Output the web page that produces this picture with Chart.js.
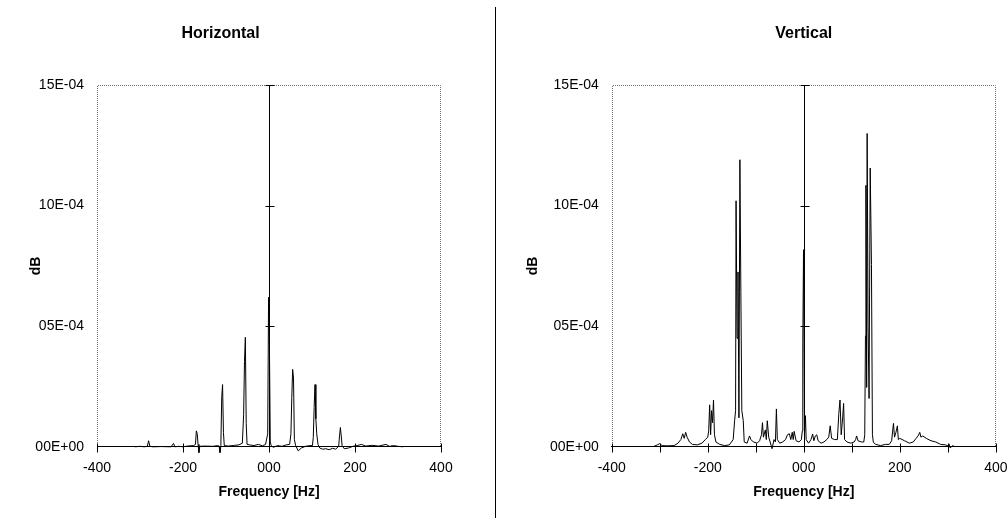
<!DOCTYPE html>
<html><head><meta charset="utf-8">
<script src="https://cdn.jsdelivr.net/npm/chart.js@4"></script>
<style>
html,body{margin:0;padding:0;background:#fff;}
#wrap{position:relative;width:1008px;height:521px;overflow:hidden;background:#fff;}
#c1{position:absolute;left:0;top:0;}
#c2{position:absolute;left:497px;top:0;}
#sep{position:absolute;left:495px;top:7px;width:1px;height:511px;background:#000;}
</style></head><body>
<div id="wrap"><canvas id="c1" width="474" height="521"></canvas><div id="sep"></div><canvas id="c2" width="523" height="521"></canvas></div>
<script>
// ---- data (values in units of 1E-04) ----
const chartTitles = ['Horizontal', 'Vertical'];
const xAxisTitle = 'Frequency [Hz]';
const yAxisTitle = 'dB';
const yTickVals = [0, 5, 10, 15];
const yTickLabels = ['00E+00', '05E-04', '10E-04', '15E-04'];
const hTickVals = [-400, -200, 0, 200, 400];
const vTickVals = [-400, -300, -200, -100, 0, 100, 200, 300, 400];
const xLabelVals = [-400, -200, 0, 200, 400];
const xLabelText = ['-400', '-200', '000', '200', '400'];

const hFreq = [-312,-300,-290,-283,-280,-277,-270,-250,-228,-222,
  -219,-210,-200,-190,-175,-171,-169,-167,-165,-163,
  -161,-150,-130,-120,-116,-114,-112,-110,-108,-106,
  -104,-95,-80,-70,-62,-59,-57,-55,-53,-51,
  -45,-35,-25,-15,-8,-3,-1,1,3,5,
  10,20,30,40,48,51,53,55,57,59,
  62,68,75,85,95,101,103,105,107,109,
  111,114,118,125,132,140,148,155,162,164,
  166,168,170,175,185,195,205,215,225,240,
  255,272,280,290,300,312];
const hVal = [0,0.02,0,0.02,0.25,0.02,0,0.01,0,0.14,
  0,0.02,0,0.03,0.05,0.1,0.66,0.55,0.1,-0.24,
  0.02,0.03,0.02,0.05,0.03,-0.24,0.05,2.03,2.58,0.6,
  0.05,0.03,0.06,0.08,0.15,1.33,3.54,4.54,0.96,0.1,
  0.08,0.05,0.1,0.04,0.1,0.54,6.2,4.2,0.2,0.05,
  -0.02,0.05,0.02,0.08,0.1,0.54,2.05,3.21,2.85,0.3,
  0.05,-0.17,-0.05,0.02,0.05,0.05,0.39,1.63,2.58,1.16,
  0.54,0.1,-0.05,-0.1,-0.08,-0.12,-0.06,-0.1,0.02,0.45,
  0.8,0.45,0.05,-0.08,-0.05,0.02,0.05,0.1,0.03,0.06,
  0.03,0.1,0.02,0.05,0.02,0];

const vFreq = [-312,-305,-300,-295,-285,-270,-262,-256,-252,-249,
  -246,-243,-238,-232,-222,-212,-205,-200,-198,-196,
  -194,-192,-190,-188,-186,-183,-175,-165,-155,-147,
  -144,-142,-141,-139,-137,-135,-133,-131,-129,-126,
  -124,-118,-113,-110,-105,-97,-92,-88,-86,-84,
  -80,-78,-76,-73,-70,-66,-62,-59,-57,-55,
  -50,-44,-38,-34,-30,-27,-24,-22,-20,-16,
  -10,-5,-3,-2,-0.5,1.5,3.5,5,10,15,
  18.5,21,24,27,30,36,42,48,52,55,
  58,64,70,73,75.5,78,81,83,85,90,
  98,105,108,110,113,120,125,127,128.5,129.5,
  131,132,134,136,138.4,141,143,145,150,160,
  170,178,183,186.8,189,192,195,197,200,210,
  220,228,234,238,241.6,244,248,255,265,275,
  285,295,300,302.5,305,310,313];
const vVal = [0.02,0.08,0.13,0.05,0.04,0.05,0.15,0.3,0.54,0.35,
  0.6,0.4,0.2,0.1,0.08,0.15,0.3,0.4,0.66,1.74,
  0.5,1.5,1.0,1.94,0.5,0.2,0.1,0.05,0.08,0.3,
  1.08,1.5,10.2,4.5,7.25,1.2,11.9,6.4,1.5,1.08,
  0.2,0.15,0.45,0.3,0.2,0.15,0.25,0.5,1.0,0.4,
  0.7,0.3,1.08,0.4,0.2,-0.08,0.3,0.2,1.57,0.3,
  0.15,0.2,0.3,0.5,0.54,0.3,0.6,0.3,0.64,0.25,
  0.2,0.3,0.66,4.33,8.17,0.5,1.29,0.3,0.15,0.3,
  0.53,0.25,0.45,0.5,0.25,0.15,0.2,0.3,0.4,0.87,
  0.35,0.3,0.3,1.38,1.94,0.5,1.2,1.8,0.3,0.2,
  0.15,0.2,0.3,0.45,0.25,0.2,0.2,0.5,4.6,10.84,
  2.46,12.99,5,2,11.56,7.56,0.5,0.18,0.1,0.05,
  0.1,0.1,0.25,0.97,0.4,0.6,0.87,0.3,0.35,0.25,
  0.15,0.2,0.35,0.45,0.6,0.4,0.45,0.35,0.25,0.2,
  0.1,0.08,0.04,0.12,-0.05,0.05,0.02];

// ---- rendering ----
Chart.defaults.font.family = '"Liberation Sans", Arial, sans-serif';
Chart.defaults.color = '#000';

const framePlugin = {
  id: 'frame',
  beforeDatasetsDraw(chart) {
    const {ctx, chartArea: a, scales: {x, y}} = chart;
    const L = Math.round(a.left) + 0.5, R = Math.round(a.right) - 0.5, T = Math.round(a.top) + 0.5, B = Math.round(a.bottom);
    ctx.save();
    ctx.strokeStyle = '#707070';
    ctx.lineWidth = 1;
    ctx.setLineDash([1, 1]);
    ctx.beginPath();
    ctx.moveTo(L, B); ctx.lineTo(L, T); ctx.lineTo(R, T); ctx.lineTo(R, B);
    ctx.stroke();
    ctx.setLineDash([]);
    ctx.strokeStyle = '#000';
    ctx.beginPath();
    const x0 = Math.round(x.getPixelForValue(0)) + 0.5;
    ctx.moveTo(x0, Math.round(y.getPixelForValue(15))); ctx.lineTo(x0, B);
    y.ticks.forEach(t => {
      if (t.value > 0) {
        const py = Math.round(y.getPixelForValue(t.value)) + 0.5;
        ctx.moveTo(x0 - 4, py); ctx.lineTo(x0 + 5, py);
      }
    });
    const y0 = Math.round(y.getPixelForValue(0)) + 0.5;
    x.ticks.forEach(t => {
      const px = Math.round(x.getPixelForValue(t.value)) + 0.5;
      ctx.moveTo(px, y0 - 4); ctx.lineTo(px, y0 + 5);
    });
    ctx.stroke();
    ctx.restore();
  }
};

function makeChart(id, title, freq, vals, tickVals, opts) {
  return new Chart(document.getElementById(id), {
    type: 'line',
    data: {
      datasets: [{
        data: freq.map((f, i) => ({x: f, y: vals[i]})),
        borderColor: '#000', borderWidth: 1, pointRadius: 0, tension: 0,
        clip: false, borderJoinStyle: 'bevel'
      }]
    },
    options: {
      responsive: false, animation: false, devicePixelRatio: 1,
      layout: {autoPadding: false, padding: {left: 0, right: opts.padRight, top: 0, bottom: 20.6}},
      plugins: {
        legend: {display: false}, tooltip: {enabled: false},
        title: {display: true, text: title, fullSize: opts.fullSize,
          font: {size: 16, weight: 'bold'}, color: '#000',
          padding: {top: 24, bottom: 41.8}}
      },
      scales: {
        x: {
          type: 'linear', min: -400, max: 400,
          afterBuildTicks: s => { s.ticks = tickVals.map(v => ({value: v})); },
          grid: {display: false, drawTicks: false},
          border: {display: true, color: '#000', width: 1},
          ticks: {padding: 12.5, maxRotation: 0, autoSkip: false, font: {size: 14},
            callback: v => { const k = xLabelVals.indexOf(v); return k >= 0 ? xLabelText[k] : ''; }},
          title: {display: true, text: xAxisTitle, font: {size: 14, weight: 'bold'}, padding: {top: -5, bottom: 0}}
        },
        y: {
          type: 'linear', min: 0, max: 15,
          afterBuildTicks: s => { s.ticks = yTickVals.map(v => ({value: v})); },
          grid: {display: false, drawTicks: false},
          border: {display: false},
          ticks: {padding: 13, font: {size: 14},
            callback: v => yTickLabels[yTickVals.indexOf(v)]},
          title: {display: true, text: yAxisTitle, font: {size: 14, weight: 'bold'}, padding: {top: 27.6, bottom: opts.yTitlePadB}}
        }
      }
    },
    plugins: [framePlugin]
  });
}

makeChart('c1', chartTitles[0], hFreq, hVal, hTickVals, {padRight: 33, fullSize: true, yTitlePadB: -22.05});
makeChart('c2', chartTitles[1], vFreq, vVal, vTickVals, {padRight: 0, fullSize: false, yTitlePadB: -4.35});
</script>
</body></html>
